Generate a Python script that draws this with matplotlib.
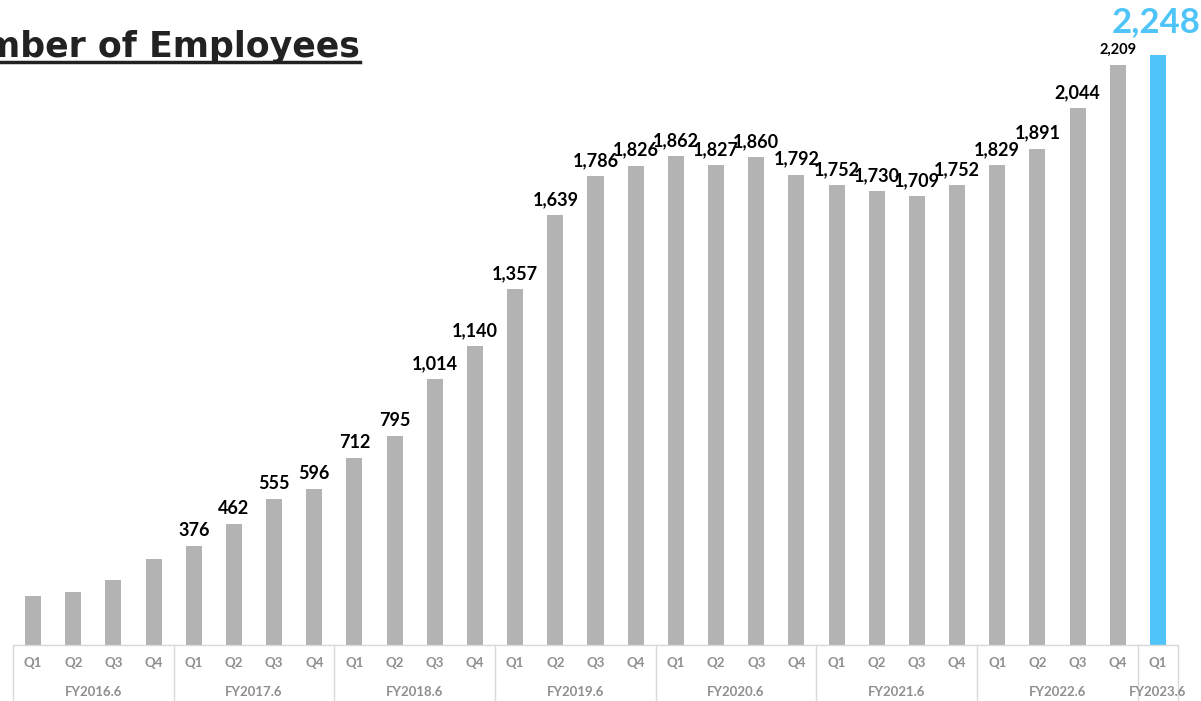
import numpy as np
import matplotlib.pyplot as plt
import matplotlib.lines as mlines

quarters = ["Q1", "Q2", "Q3", "Q4"]
fiscal_years = ["FY2016.6", "FY2017.6", "FY2018.6", "FY2019.6",
                "FY2020.6", "FY2021.6", "FY2022.6", "FY2023.6"]
employees = [187, 202, 248, 328,
             376, 462, 555, 596,
             712, 795, 1014, 1140,
             1357, 1639, 1786, 1826,
             1862, 1827, 1860, 1792,
             1752, 1730, 1709, 1752,
             1829, 1891, 2044, 2209,
             2248]
# the first fiscal year is drawn without value labels
first_labeled = 4

gray = "#b3b3b3"
blue = "#4fc4f8"
axis_gray = "#d9d9d9"
text_gray = "#8f8f8f"

W, H = 1201, 701
fig = plt.figure(figsize=(W / 100, H / 100), dpi=100)
ax = fig.add_axes([13 / W, 56 / H, (1178 - 13) / W, 645 / H])

n = len(employees)
x = np.arange(n)
colors = [gray] * (n - 1) + [blue]
ax.bar(x, employees, width=0.4, color=colors, zorder=2)
ax.set_xlim(-0.5, n - 0.5)
ax.set_ylim(0, 2457)
ax.axis("off")

for i in range(first_labeled, n - 2):
    ax.annotate(f"{employees[i]:,}", (x[i], employees[i]), xytext=(0, 5),
                textcoords="offset points", ha="center", va="bottom",
                fontsize=13, fontweight="bold", family="Lato", color="black")
ax.annotate(f"{employees[n - 2]:,}", (x[n - 2], employees[n - 2]), xytext=(0, 6),
            textcoords="offset points", ha="center", va="bottom",
            fontsize=10.5, fontweight="bold", family="Lato", color="black")
ax.annotate(f"{employees[-1]:,}", (x[-1], employees[-1]), xytext=(-1, 12),
            textcoords="offset points", ha="center", va="bottom",
            fontsize=25, fontweight="bold", family="Lato", color=blue)

# category table under the bars
tr = ax.get_xaxis_transform()
bottom = -56 / 645
ax.add_line(mlines.Line2D([-0.5, n - 0.5], [0, 0], transform=tr,
                          color=axis_gray, lw=1, clip_on=False))
seps = [-0.5] + [4 * k + 3.5 for k in range(7)] + [n - 0.5]
for s in seps:
    ax.add_line(mlines.Line2D([s, s], [0, bottom], transform=tr,
                              color=axis_gray, lw=1, clip_on=False))
for i in range(n):
    ax.text(x[i], -18 / 645, quarters[i % 4], transform=tr, ha="center",
            va="center", fontsize=9.5, fontweight="bold", family="Lato",
            color=text_gray)
for k, fy in enumerate(fiscal_years):
    start = 4 * k
    end = min(start + 3, n - 1)
    ax.text((start + end) / 2, -47 / 645, fy, transform=tr, ha="center",
            va="center", fontsize=9.5, fontweight="bold", family="Lato",
            color=text_gray)

# underlined title running off the left edge
fig.text(360 / W, 1 - 57 / H, "Number of Employees", ha="right",
         va="baseline", fontsize=25, fontweight="bold", family="DejaVu Sans",
         color="#222222")
fig.add_artist(mlines.Line2D([0, 360 / W], [1 - 62 / H, 1 - 62 / H],
                             color="#222222", lw=2.5))

fig.savefig("out.png", dpi=100)
